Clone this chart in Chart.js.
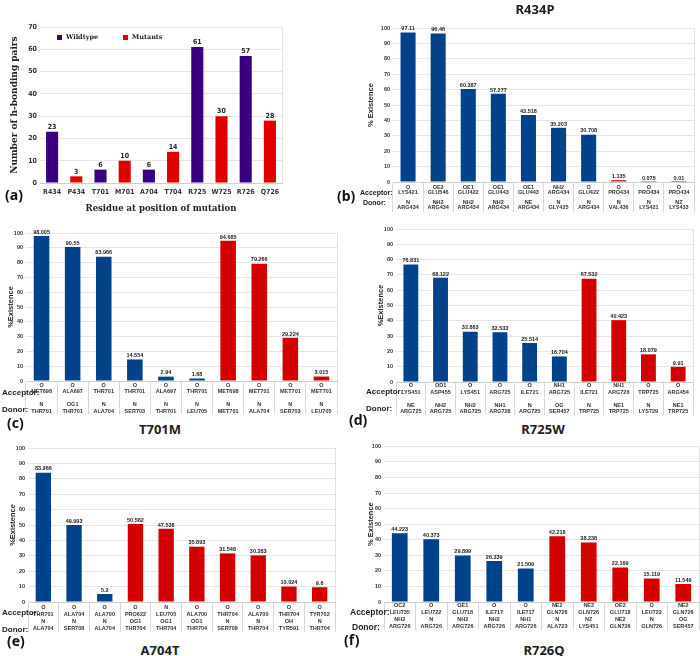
<!DOCTYPE html>
<html>
<head>
<meta charset="utf-8">
<script src="https://cdn.jsdelivr.net/npm/chart.js@4.4.0/dist/chart.umd.min.js"></script>
<style>
  body { margin: 0; background: #fff; }
  #page { position: relative; width: 700px; height: 656px; overflow: hidden; font-family: 'Liberation Sans', Arial, sans-serif; }
  canvas { position: absolute; }
  .txt { position: absolute; white-space: nowrap; font-weight: bold; color: #222; transform: translateY(-50%); }
  .title { position: absolute; white-space: nowrap; font-family: 'Noto Sans', sans-serif; font-weight: bold; font-size: 13px; color: #222; transform: translate(-50%, -50%); }
  .panel { position: absolute; white-space: nowrap; font-family: 'Noto Sans', sans-serif; font-weight: bold; font-size: 14px; color: #111; transform: translateY(-50%); }
  .legend { position: absolute; font-family: 'DejaVu Serif', serif; font-weight: bold; font-size: 6.5px; color: #222; transform: translateY(-50%); }
  .legend i { display: inline-block; width: 5px; height: 5px; margin-right: 4px; vertical-align: middle; }
</style>
</head>
<body>
<div id="page">
  <canvas id="chart-a" width="292" height="205" style="left:0px;top:15px"></canvas>
  <canvas id="chart-b" width="350" height="215" style="left:350px;top:0px"></canvas>
  <canvas id="chart-c" width="350" height="200" style="left:0px;top:220px"></canvas>
  <canvas id="chart-d" width="350" height="200" style="left:350px;top:220px"></canvas>
  <canvas id="chart-e" width="350" height="200" style="left:0px;top:440px"></canvas>
  <canvas id="chart-f" width="350" height="200" style="left:350px;top:440px"></canvas>

  <div class="legend" style="left:57px;top:37px"><i style="background:#3a0082"></i>Wildtype</div>
  <div class="legend" style="left:123px;top:37px"><i style="background:#e00000"></i>Mutants</div>

  <div class="title" style="left:535px;top:9px">R434P</div>
  <div class="title" style="left:160px;top:429px">T701M</div>
  <div class="title" style="left:543px;top:429px">R725W</div>
  <div class="title" style="left:160px;top:650px">A704T</div>
  <div class="title" style="left:544px;top:650px">R726Q</div>

  <div class="panel" style="left:5px;top:194px">(a)</div>
  <div class="panel" style="left:337px;top:195px">(b)</div>
  <div class="panel" style="left:7px;top:422px">(c)</div>
  <div class="panel" style="left:349px;top:419px">(d)</div>
  <div class="panel" style="left:7px;top:640px">(e)</div>
  <div class="panel" style="left:344px;top:639px">(f)</div>

  <div class="txt" style="left:360px;top:192px;font-size:7px">Acceptor:</div>
  <div class="txt" style="left:363px;top:202px;font-size:7px">Donor:</div>
  <div class="txt" style="left:2px;top:392px;font-size:8px">Acceptor:</div>
  <div class="txt" style="left:2px;top:409px;font-size:8px">Donor:</div>
  <div class="txt" style="left:366px;top:391px;font-size:8px">Acceptor:</div>
  <div class="txt" style="left:366px;top:408px;font-size:8px">Donor:</div>
  <div class="txt" style="left:2px;top:612px;font-size:8px">Acceptor:</div>
  <div class="txt" style="left:2px;top:629px;font-size:8px">Donor:</div>
  <div class="txt" style="left:350px;top:612px;font-size:8.5px">Acceptor:</div>
  <div class="txt" style="left:352px;top:627px;font-size:8.5px">Donor:</div>
</div>

<script>
// (a) number of h-bonding pairs per residue
const residues = ['R434', 'P434', 'T701', 'M701', 'A704', 'T704', 'R725', 'W725', 'R726', 'Q726'];
const hbondPairs = [23, 3, 6, 10, 6, 14, 61, 30, 57, 28];
const residueSystem = ['WT', 'MT', 'WT', 'MT', 'WT', 'MT', 'WT', 'MT', 'WT', 'MT'];

// (b) R434P
const r434pValues = [97.11, 96.46, 60.387, 57.277, 43.518, 35.203, 30.708, 1.135, 0.075, 0.01];
const r434pSystem = ['WT', 'WT', 'WT', 'WT', 'WT', 'WT', 'WT', 'MT', 'MT', 'MT'];
const r434pAcceptor = ['O LYS421', 'OE2 GLU546', 'OE1 GLU422', 'OE1 GLU443', 'OE1 GLU443', 'NH2 ARG434', 'O GLU422', 'O PRO434', 'O PRO434', 'O PRO434'];
const r434pDonor = ['N ARG434', 'NH2 ARG434', 'NH2 ARG434', 'NH2 ARG434', 'NE ARG434', 'N GLY425', 'N ARG434', 'N VAL436', 'N LYS421', 'NZ LYS433'];

// (c) T701M
const t701mValues = [98.005, 90.55, 83.966, 14.554, 2.94, 1.68, 94.685, 79.266, 29.224, 3.015];
const t701mSystem = ['WT', 'WT', 'WT', 'WT', 'WT', 'WT', 'MT', 'MT', 'MT', 'MT'];
const t701mAcceptor = ['O MET698', 'O ALA697', 'O THR701', 'O THR701', 'O ALA697', 'O THR701', 'O MET698', 'O MET701', 'O MET701', 'O MET701'];
const t701mDonor = ['N THR701', 'OG1 THR701', 'N ALA704', 'N SER703', 'N THR701', 'N LEU705', 'N MET701', 'N ALA704', 'N SER703', 'N LEU705'];

// (d) R725W
const r725wValues = [76.831, 68.122, 32.863, 32.533, 25.514, 16.704, 67.532, 40.423, 18.079, 9.91];
const r725wSystem = ['WT', 'WT', 'WT', 'WT', 'WT', 'WT', 'MT', 'MT', 'MT', 'MT'];
const r725wAcceptor = ['O LYS451', 'OD1 ASP455', 'O LYS451', 'O ARG725', 'O ILE721', 'NH1 ARG725', 'O ILE721', 'NH1 ARG726', 'O TRP725', 'O ARG454'];
const r725wDonor = ['NE ARG725', 'NH2 ARG725', 'NH2 ARG725', 'NH1 ARG728', 'N ARG725', 'OG SER457', 'N TRP725', 'NE1 TRP725', 'N LYS729', 'NE1 TRP725'];

// (e) A704T
const a704tValues = [83.966, 49.993, 5.2, 50.582, 47.538, 35.893, 31.548, 30.283, 10.024, 9.6];
const a704tSystem = ['WT', 'WT', 'WT', 'MT', 'MT', 'MT', 'MT', 'MT', 'MT', 'MT'];
const a704tAcceptor = ['O THR701', 'O ALA704', 'O ALA700', 'O PRO622', 'N LEU705', 'O ALA700', 'O THR704', 'O ALA700', 'O THR704', 'O TYR702'];
const a704tDonor = ['N ALA704', 'N SER708', 'N ALA704', 'OG1 THR704', 'OG1 THR704', 'OG1 THR704', 'N SER708', 'N THR704', 'OH TYR591', 'N THR704'];

// (f) R726Q
const r726qValues = [44.223, 40.373, 29.899, 26.339, 21.509, 42.218, 38.238, 22.169, 15.119, 11.549];
const r726qSystem = ['WT', 'WT', 'WT', 'WT', 'WT', 'MT', 'MT', 'MT', 'MT', 'MT'];
const r726qAcceptor = ['OC2 LEU735', 'O LEU722', 'OE1 GLU718', 'O ILE717', 'O ILE717', 'NE2 GLN726', 'NE2 GLN726', 'OE2 GLU718', 'O LEU722', 'NE2 GLN726'];
const r726qDonor = ['NH2 ARG726', 'N ARG726', 'NH2 ARG726', 'NH2 ARG726', 'NH1 ARG726', 'N ALA723', 'NZ LYS451', 'NE2 GLN726', 'N GLN726', 'OG SER457'];

const SANS = "'Liberation Sans', Arial, sans-serif";
const NARROW = "'DejaVu Sans Condensed', 'Liberation Sans Narrow', 'Liberation Sans', sans-serif";
const SERIF = "'DejaVu Serif', 'Liberation Serif', serif";

const palette = {
  a: { WT: '#3a0082', MT: '#e00000' },
  other: { WT: '#02428a', MT: '#d20000' }
};

// numbers printed on top of each bar
const valueLabels = {
  id: 'valueLabels',
  afterDatasetsDraw(chart, args, opts) {
    const { ctx } = chart;
    const data = chart.data.datasets[0].data;
    ctx.save();
    ctx.font = opts.font;
    ctx.fillStyle = '#222';
    ctx.textAlign = 'center';
    ctx.textBaseline = 'bottom';
    chart.getDatasetMeta(0).data.forEach((bar, i) => {
      ctx.fillText(String(data[i]), bar.x, bar.y - opts.gap);
    });
    ctx.restore();
  }
};

// faint frame line at the right side of the plot
const rightEdge = {
  id: 'rightEdge',
  beforeDatasetsDraw(chart) {
    const { ctx, chartArea } = chart;
    ctx.save();
    ctx.strokeStyle = '#e2e2e2';
    ctx.lineWidth = 1;
    ctx.beginPath();
    ctx.moveTo(chartArea.right + 0.5, chartArea.top);
    ctx.lineTo(chartArea.right + 0.5, chartArea.bottom);
    ctx.stroke();
    ctx.restore();
  }
};

const makeChart = (id, p) => {
  const canvas = document.getElementById(id);
  const yWidth = p.plotLeft - p.left;
  const xHeight = p.top + p.height - p.plotBottom;
  const lh = p.lineHeight;
  const tl = p.sepLength || 0;

  return new Chart(canvas, {
    type: 'bar',
    data: {
      labels: p.labels,
      datasets: [{
        data: p.values,
        backgroundColor: p.colors,
        barPercentage: 0.5,
        categoryPercentage: 1
      }]
    },
    options: {
      responsive: false,
      animation: false,
      layout: { padding: { top: p.plotTop - p.top, right: p.left + p.width - p.plotRight, left: 0, bottom: 0 } },
      plugins: {
        legend: { display: false },
        tooltip: { enabled: false },
        valueLabels: { font: p.valueFont, gap: 1 }
      },
      scales: {
        x: {
          grid: {
            display: tl > 0,
            drawOnChartArea: false,
            drawTicks: tl > 0,
            tickLength: tl,
            offset: true,
            color: '#d8d8d8'
          },
          border: { display: true, color: '#cfcfcf' },
          ticks: {
            autoSkip: false,
            maxRotation: 0,
            minRotation: 0,
            color: '#333',
            padding: p.firstLine - tl - lh / 2,
            font: { family: p.tickFamily, size: p.tickSize, weight: 'bold', lineHeight: lh / p.tickSize }
          },
          title: p.xTitle ? {
            display: true,
            text: p.xTitle,
            color: '#222',
            font: { family: SERIF, size: 8.5, weight: 'bold', lineHeight: 1.2 },
            padding: { top: 0, bottom: p.xTitleOffset }
          } : { display: false },
          afterFit: (scale) => { scale.height = xHeight; }
        },
        y: {
          min: 0,
          max: p.max,
          grid: { color: '#e6e6e6', drawTicks: false },
          border: { display: false },
          ticks: {
            stepSize: 10,
            color: '#333',
            padding: 3,
            font: { family: p.yTickFamily, size: p.yTickSize, weight: 'bold' }
          },
          title: {
            display: true,
            text: p.yTitle,
            color: '#222',
            font: { family: p.yTitleFamily, size: p.yTitleSize, weight: 'bold', lineHeight: 1.2 },
            padding: { top: p.yTitleX - p.left - p.yTitleSize * 0.6, bottom: 0 }
          },
          afterFit: (scale) => { scale.width = yWidth; }
        }
      }
    },
    plugins: [valueLabels, rightEdge]
  });
};

const colorsFor = (system, key) => system.map(s => palette[key][s]);
const twoRow = (acc, don) => acc.map((a, i) => [...a.split(' '), '', ...don[i].split(' ')]);
const fourRow = (acc, don) => acc.map((a, i) => [...a.split(' '), ...don[i].split(' ')]);

const smallPanel = {
  width: 350, height: 200, max: 100,
  tickFamily: SANS, tickSize: 5.5,
  yTickFamily: SANS, yTickSize: 5.5,
  yTitleFamily: SANS, yTitleSize: 7.5,
  valueFont: 'bold 5.5px ' + SANS
};

makeChart('chart-a', {
  left: 0, top: 15, width: 292, height: 205,
  plotLeft: 40, plotRight: 282, plotTop: 27, plotBottom: 183, max: 70,
  labels: residues, values: hbondPairs, colors: colorsFor(residueSystem, 'a'),
  tickFamily: NARROW, tickSize: 7, lineHeight: 8.4, firstLine: 9,
  yTickFamily: NARROW, yTickSize: 7,
  yTitle: 'Number of h-bonding pairs', yTitleFamily: SERIF, yTitleSize: 9, yTitleX: 15,
  xTitle: 'Residue at position of mutation', xTitleOffset: 6,
  valueFont: 'bold 7px ' + NARROW
});

makeChart('chart-b', Object.assign({}, smallPanel, {
  left: 350, top: 0, height: 215,
  plotLeft: 393, plotRight: 694, plotTop: 28, plotBottom: 182,
  labels: twoRow(r434pAcceptor, r434pDonor), values: r434pValues, colors: colorsFor(r434pSystem, 'other'),
  lineHeight: 5.2, firstLine: 5, sepLength: 30,
  yTitle: '% Existence', yTitleX: 371
}));

makeChart('chart-c', Object.assign({}, smallPanel, {
  left: 0, top: 220,
  plotLeft: 26, plotRight: 337, plotTop: 233, plotBottom: 381,
  labels: twoRow(t701mAcceptor, t701mDonor), values: t701mValues, colors: colorsFor(t701mSystem, 'other'),
  lineHeight: 6.5, firstLine: 4, sepLength: 33,
  yTitle: '%Existence', yTitleX: 11
}));

makeChart('chart-d', Object.assign({}, smallPanel, {
  left: 350, top: 220,
  plotLeft: 396, plotRight: 693, plotTop: 229, plotBottom: 382,
  labels: twoRow(r725wAcceptor, r725wDonor), values: r725wValues, colors: colorsFor(r725wSystem, 'other'),
  lineHeight: 6.5, firstLine: 3.5, sepLength: 33,
  yTitle: '%Existence', yTitleX: 381
}));

makeChart('chart-e', Object.assign({}, smallPanel, {
  left: 0, top: 440,
  plotLeft: 28, plotRight: 335, plotTop: 448, plotBottom: 602,
  labels: fourRow(a704tAcceptor, a704tDonor), values: a704tValues, colors: colorsFor(a704tSystem, 'other'),
  lineHeight: 7, firstLine: 5, sepLength: 30,
  yTitle: '%Existence', yTitleX: 13
}));

makeChart('chart-f', Object.assign({}, smallPanel, {
  left: 350, top: 440,
  plotLeft: 384, plotRight: 699, plotTop: 442, plotBottom: 602,
  labels: fourRow(r726qAcceptor, r726qDonor), values: r726qValues, colors: colorsFor(r726qSystem, 'other'),
  lineHeight: 7, firstLine: 3.5, sepLength: 28,
  yTitle: '% Existence', yTitleX: 371
}));
</script>
</body>
</html>
